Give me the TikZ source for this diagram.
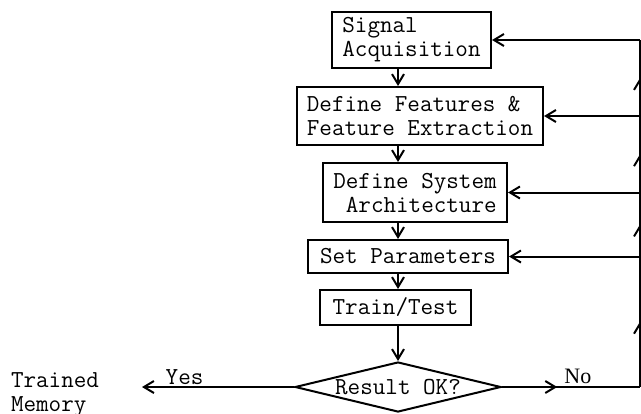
\documentclass[tikz,border=0pt]{standalone}
\usepackage{fontspec}
\setmainfont{Liberation Serif}
\usetikzlibrary{arrows.meta,shapes.geometric,decorations.markings}

\begin{document}
\begin{tikzpicture}[x=0.5pt,y=-0.5pt,line width=1pt,
            tw/.style={font=\ttfamily\fontsize{12.2}{12}\selectfont},
            stage/.style={draw,tw,inner sep=0pt},
            flow/.style={-{Straight Barb[length=5pt,width=6pt]}},
            midtip/.style={postaction={decorate},decoration={markings,
                mark=at position #1 with {\arrow{Straight Barb[length=5pt,width=6pt]}}}}]
            \useasboundingbox (0,0) rectangle (641,413);

            \node[stage,minimum width=79.5pt,minimum height=28pt,align=left] (sig) at (411.5,40) {Signal\\Acquisition};
            \node[stage,minimum width=123pt,minimum height=29pt,align=left] (feat) at (420,116) {Define Features \&\\Feature Extraction};
            \node[stage,minimum width=92pt,minimum height=29.5pt,align=right] (arch) at (415,192.5) {Define System\\Architecture};
            \node[stage,minimum width=100pt,minimum height=16.5pt] (par) at (408,256.5) {Set Parameters};
            \node[stage,minimum width=75.5pt,minimum height=17.5pt] (tt) at (395.5,307.5) {Train/Test};
            \node[stage,shape=diamond,aspect=4.12,minimum width=103pt,minimum height=25pt] (dec) at (398,387) {Result OK?};
            \node[tw,inner sep=0pt,align=left,anchor=north west] (mem) at (10,372) {Trained\\Memory};
            \coordinate (rail) at (640,0);
            \coordinate (yesend) at (142,387);

            \draw[flow] (sig.south -| dec.north) -- (feat.north -| dec.north);
            \draw[flow] (feat.south -| dec.north) -- (arch.north -| dec.north);
            \draw[flow] (arch.south -| dec.north) -- (par.north -| dec.north);
            \draw[flow] (par.south -| dec.north) -- (tt.north -| dec.north);
            \draw[flow] (tt.south -| dec.north) -- (dec.north);

            \draw[flow] (dec.west) -- node[above,tw,inner sep=0.5pt,pos=0.72] {Yes} (yesend);
            \draw[midtip=0.4] (dec.east) -- node[above,inner sep=1pt,pos=0.55,font=\fontsize{11}{12}\selectfont] {No} (dec.east -| rail);

            \draw[midtip=0.5] (dec.east -| rail) -- (par.east -| rail);
            \draw[midtip=0.5] (par.east -| rail) -- (arch.east -| rail);
            \draw[midtip=0.5] (arch.east -| rail) -- (feat.east -| rail);
            \draw[midtip=0.5] (feat.east -| rail) -- (sig.east -| rail);
            \draw[flow] (par.east -| rail) -- (par.east);
            \draw[flow] (arch.east -| rail) -- (arch.east);
            \draw[flow] (feat.east -| rail) -- (feat.east);
            \draw[flow] (sig.east -| rail) -- (sig.east);
        \end{tikzpicture}
\end{document}
